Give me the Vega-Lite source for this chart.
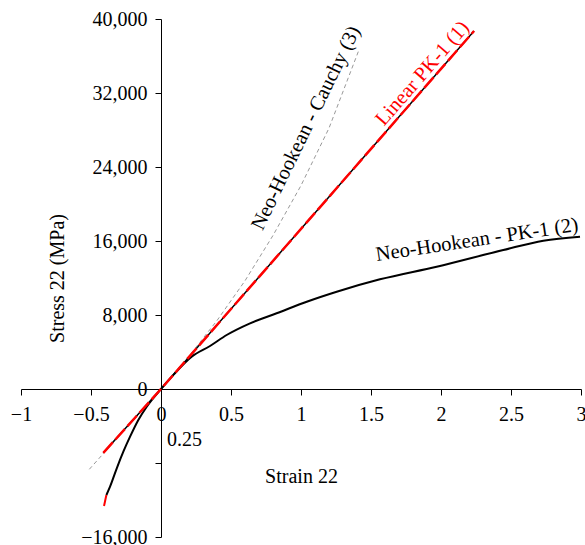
{
  "$schema": "https://vega.github.io/schema/vega-lite/v6.json",
  "width": 560,
  "height": 518,
  "autosize": {"type": "none"},
  "padding": {"left": 21, "top": 19, "right": 4, "bottom": 8},
  "background": "white",
  "config": {
    "view": {"stroke": null},
    "font": "Liberation Serif",
    "axis": {
      "grid": false,
      "domainColor": "black",
      "domainWidth": 1,
      "tickColor": "black",
      "tickWidth": 1,
      "tickSize": 6,
      "labelColor": "black",
      "titleColor": "black",
      "labelFont": "Liberation Serif",
      "titleFont": "Liberation Serif",
      "labelFontSize": 20,
      "titleFontSize": 20,
      "titleFontWeight": "normal",
      "labelFlush": false,
      "labelOverlap": false
    }
  },
  "datasets": {
    "curves": [
      {"series": "cauchy", "x": -0.512, "y": -8680},
      {"series": "cauchy", "x": -0.41, "y": -6950},
      {"series": "cauchy", "x": -0.2, "y": -3400},
      {"series": "cauchy", "x": 0, "y": 0},
      {"series": "cauchy", "x": 0.2, "y": 3550},
      {"series": "cauchy", "x": 0.4, "y": 7400},
      {"series": "cauchy", "x": 0.6, "y": 11700},
      {"series": "cauchy", "x": 0.8, "y": 16600},
      {"series": "cauchy", "x": 1.0, "y": 22000},
      {"series": "cauchy", "x": 1.2, "y": 28200},
      {"series": "cauchy", "x": 1.41, "y": 36500},
      {"series": "pk1", "x": -0.39, "y": -11460},
      {"series": "pk1", "x": -0.364, "y": -10561},
      {"series": "pk1", "x": -0.316, "y": -8572},
      {"series": "pk1", "x": -0.269, "y": -6778},
      {"series": "pk1", "x": -0.221, "y": -5156},
      {"series": "pk1", "x": -0.162, "y": -3351},
      {"series": "pk1", "x": -0.102, "y": -1913},
      {"series": "pk1", "x": 0, "y": 0},
      {"series": "pk1", "x": 0.088, "y": 1520},
      {"series": "pk1", "x": 0.219, "y": 3492},
      {"series": "pk1", "x": 0.35, "y": 4648},
      {"series": "pk1", "x": 0.469, "y": 5837},
      {"series": "pk1", "x": 0.636, "y": 7102},
      {"series": "pk1", "x": 0.826, "y": 8183},
      {"series": "pk1", "x": 1.041, "y": 9437},
      {"series": "pk1", "x": 1.255, "y": 10518},
      {"series": "pk1", "x": 1.564, "y": 11859},
      {"series": "pk1", "x": 1.969, "y": 13221},
      {"series": "pk1", "x": 2.445, "y": 15026},
      {"series": "pk1", "x": 2.731, "y": 16031},
      {"series": "pk1", "x": 2.993, "y": 16464},
      {"series": "tip", "x": -0.39, "y": -11460},
      {"series": "tip", "x": -0.407, "y": -12648},
      {"series": "linear", "x": -0.412, "y": -6900},
      {"series": "linear", "x": 0, "y": 0},
      {"series": "linear", "x": 2.236, "y": 38700}
    ]
  },
  "encoding": {
    "x": {
      "field": "x",
      "type": "quantitative",
      "scale": {"domain": [-1, 3], "nice": false, "zero": false},
      "axis": {
        "title": "Strain 22",
        "offset": -148,
        "values": [-1, -0.5, 0, 0.5, 1, 1.5, 2, 2.5, 3],
        "labelExpr": "format(datum.value, '~g')",
        "labelPadding": 9,
        "titleY": 93,
        "titleBaseline": "alphabetic"
      }
    },
    "y": {
      "field": "y",
      "type": "quantitative",
      "scale": {"domain": [-16000, 40000], "nice": false, "zero": false},
      "axis": {
        "title": "Stress 22 (MPa)",
        "offset": -140,
        "values": [-16000, -8000, 0, 8000, 16000, 24000, 32000, 40000],
        "labelExpr": "datum.value == -8000 ? '' : format(datum.value, ',')",
        "labelPadding": 8,
        "titleX": -98,
        "titleY": 259,
        "titleBaseline": "alphabetic",
        "titleAngle": -90
      }
    }
  },
  "layer": [
    {
      "data": {"name": "curves"},
      "transform": [{"filter": "datum.series == 'cauchy'"}],
      "mark": {"type": "line", "color": "#999999", "strokeWidth": 1, "strokeDash": [4, 3]}
    },
    {
      "data": {"name": "curves"},
      "transform": [{"filter": "datum.series == 'pk1'"}],
      "mark": {"type": "line", "color": "black", "strokeWidth": 2, "interpolate": "monotone"}
    },
    {
      "data": {"name": "curves"},
      "transform": [{"filter": "datum.series == 'tip'"}],
      "mark": {"type": "line", "color": "red", "strokeWidth": 2}
    },
    {
      "data": {"name": "curves"},
      "transform": [{"filter": "datum.series == 'linear'"}],
      "mark": {"type": "line", "color": "black", "strokeWidth": 1.5}
    },
    {
      "data": {"name": "curves"},
      "transform": [{"filter": "datum.series == 'linear'"}],
      "mark": {"type": "line", "color": "red", "strokeWidth": 2.5, "strokeDash": [14, 4]}
    },
    {
      "data": {"values": [{"label": "Linear PK-1 (1)", "x": 1.868, "y": 34106}]},
      "mark": {"type": "text", "color": "red", "fontSize": 20.5, "angle": -49, "align": "center", "baseline": "middle", "font": "Liberation Serif"},
      "encoding": {"text": {"field": "label"}}
    },
    {
      "data": {"values": [{"label": "Neo-Hookean - Cauchy (3)", "x": 1.036, "y": 28214}]},
      "mark": {"type": "text", "color": "black", "fontSize": 20.5, "angle": -64, "align": "center", "baseline": "middle", "font": "Liberation Serif"},
      "encoding": {"text": {"field": "label"}}
    },
    {
      "data": {"values": [{"label": "Neo-Hookean - PK-1 (2)", "x": 2.257, "y": 16107}]},
      "mark": {"type": "text", "color": "black", "fontSize": 20.5, "angle": -8.5, "align": "center", "baseline": "middle", "font": "Liberation Serif"},
      "encoding": {"text": {"field": "label"}}
    },
    {
      "data": {"values": [{"label": "0.25", "x": 0.043, "y": -5513}]},
      "mark": {"type": "text", "color": "black", "fontSize": 20, "align": "left", "baseline": "middle", "font": "Liberation Serif"},
      "encoding": {"text": {"field": "label"}}
    }
  ]
}
